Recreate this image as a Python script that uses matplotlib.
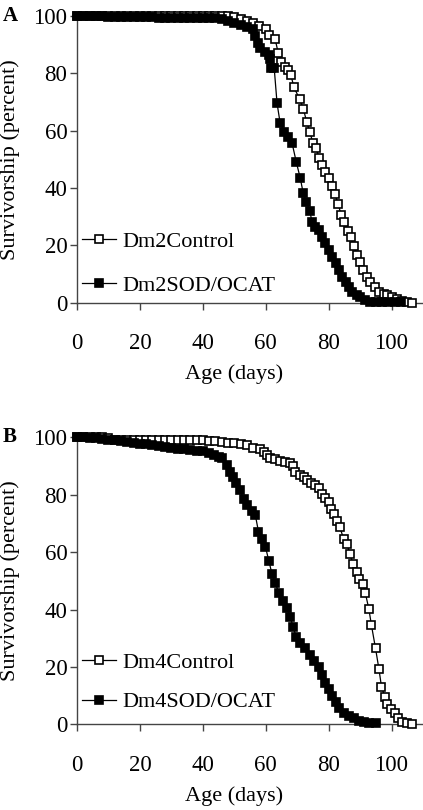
import matplotlib
matplotlib.use("Agg")
import matplotlib.pyplot as plt

plt.rcParams["font.family"] = ["Liberation Serif", "DejaVu Serif"]

# Panel A: Dm2 lines (day, percent surviving)
a_ctrl_days = [0, 2, 4, 6, 8, 10, 12, 14, 16, 18, 20, 22, 24, 26, 28, 30, 32, 34, 36, 38, 40, 42, 44, 46, 48,
               50, 52, 54, 56, 58, 60, 61, 63, 64, 65, 66, 67, 68, 69, 70.8, 72, 73, 74, 75, 76, 77, 78, 79, 80,
               81, 82, 83, 84, 85, 86, 87, 88, 89, 90, 91, 92.3, 93.3, 94.6, 96, 97.6, 98.6, 100.2, 101.8, 103.4,
               105, 106.6]
a_ctrl_pct = [100, 100, 100, 100, 100, 100, 100, 100, 100, 100, 100, 100, 100, 100, 100, 100, 100, 100, 100, 100,
              100, 100, 100, 100, 99.8, 99.5, 98.8, 98.3, 97.6, 96.4, 95.3, 93.3, 91.8, 86.9, 84, 82.2, 81.1, 79.3,
              75, 70.9, 67.4, 63.1, 59.6, 55.7, 53.8, 50.5, 48, 45.6, 43.3, 40.8, 37.9, 34.4, 30.6, 28.2, 25, 22.8,
              19.8, 16.6, 14.3, 11.4, 9.1, 7.3, 5.6, 3.8, 3.0, 2.7, 1.9, 1.2, 0.6, 0.2, 0]

a_sod_days = [0, 2, 4, 6, 8, 10, 12, 14, 16, 18, 20, 22, 24, 26, 28, 30, 32, 34, 36, 38, 40, 42, 44, 46, 48, 50,
              52, 54, 56, 56.7, 57.4, 58.3, 59.7, 61, 61.5, 61.8, 62.7, 63.6, 64.6, 65.9, 67, 68.4, 69.7, 71,
              71.9, 72.9, 74, 74.7, 75.8, 76.8, 77.9, 79, 80, 81.1, 82.2, 83.2, 84.3, 85.4, 86.4, 87.5, 88.9,
              90.1, 91.7, 93.3, 95, 97, 99, 101, 103]
a_sod_pct = [100, 100, 100, 100, 100, 99.6, 99.6, 99.6, 99.6, 99.6, 99.6, 99.6, 99.6, 99.3, 99.3, 99.3, 99.3,
             99.3, 99.3, 99.3, 99.3, 99.3, 99.1, 98.8, 98.2, 97.3, 96.8, 96.2, 95.5, 92.9, 90.4, 88.6, 87.5, 86.3,
             84.8, 81.7, 81.7, 69.5, 62.5, 59.6, 57.8, 55.5, 49.1, 43.3, 38.3, 35.2, 32.1, 28.2, 26.5, 25.3, 23,
             20.7, 18.4, 16, 13.7, 11.4, 9.1, 7.3, 5.6, 3.8, 2.7, 1.9, 0.9, 0.3, 0.3, 0.2, 0.2, 0.1, 0.1]

# Panel B: Dm4 lines
b_ctrl_days = [0, 2, 4, 6, 8, 10, 12, 14, 16, 18, 20, 22, 24, 26, 28, 30, 32, 34, 36, 38, 40, 42, 44, 46, 48, 50,
               52, 54, 56.1, 58.1, 59.3, 60.4, 61.4, 63.1, 64.6, 66.2, 67.6, 68.7, 69.4, 70.8, 72.1, 73.2, 74.5,
               75.8, 76.9, 77.9, 79, 80, 80.9, 81.6, 82.7, 83.5, 84.8, 85.9, 86.7, 87.8, 88.9, 89.6, 91, 91.7,
               92.8, 93.6, 94.9, 96, 96.8, 97.9, 98.6, 99.7, 101.1, 102.2, 103.4, 105, 106.6]
b_ctrl_pct = [100, 100, 100, 100, 100, 99.8, 99.2, 99.1, 99.1, 99.1, 99.1, 99.1, 99.1, 99.1, 99.1, 99.1, 99.1,
              99.1, 99.1, 99.1, 99.0, 98.8, 98.6, 98.2, 97.9, 97.9, 97.6, 97.3, 96.4, 95.8, 95, 93.8, 92.9, 92.3,
              91.8, 91.5, 90.9, 90, 88, 86.9, 86.1, 85.1, 84.2, 83.4, 82.2, 80.2, 78.7, 77.6, 74.9, 73.3, 70.9,
              68.9, 64.5, 62.8, 59.3, 55.9, 53.2, 50.5, 48.9, 45.6, 40.1, 34.6, 26.5, 19.2, 13.1, 9.6, 7, 5.2, 4,
              2.1, 0.9, 0.3, 0.1]

b_sod_days = [0, 2, 4, 6, 8, 10, 12, 14, 16, 18, 20, 22, 24, 26, 28, 30, 32, 34, 36, 38, 40, 42, 43.4, 45, 46.1,
              47.7, 48.5, 49.6, 50.6, 51.9, 53, 54, 55.6, 56.7, 57.7, 58.8, 59.9, 61, 62, 63.1, 64.1, 65.5, 66.8,
              67.8, 68.7, 69.7, 71, 72.6, 74, 75.2, 76.9, 77.9, 79, 80, 81.1, 82.2, 83.2, 84.8, 86.4, 88, 89.6,
              91.2, 92.8, 94.9]
b_sod_pct = [100, 100, 99.8, 99.6, 99.4, 99.2, 98.9, 98.6, 98.3, 98.1, 97.8, 97.5, 97.2, 96.9, 96.6, 96.3, 96.1,
             95.8, 95.6, 95.3, 95.1, 94.6, 93.8, 93.2, 92.7, 90.3, 88, 86.1, 84.2, 81.6, 78.4, 76.4, 74.4, 72.9,
             67.1, 64.5, 61.9, 56.9, 52.4, 49.1, 45.9, 43.1, 40.4, 37.5, 33.8, 30.5, 28.2, 26.5, 24.1, 22.2, 20.1,
             17.2, 14.3, 12.2, 9.9, 7.9, 5.6, 3.8, 2.9, 2.1, 1.1, 0.9, 0.6, 0.3]

panels = [
    ("A", "Dm2Control", "Dm2SOD/OCAT", a_ctrl_days, a_ctrl_pct, a_sod_days, a_sod_pct),
    ("B", "Dm4Control", "Dm4SOD/OCAT", b_ctrl_days, b_ctrl_pct, b_sod_days, b_sod_pct),
]
x_ticks = [0, 20, 40, 60, 80, 100]
y_ticks = [0, 20, 40, 60, 80, 100]

fig = plt.figure(figsize=(4.23, 8.10), dpi=100)
bottoms = [0.6263, 0.1058]
leg_y = [0.136, 0.146]
leg_space = [1.05, 0.85]

for (letter, lab_c, lab_s, cd, cp, sd, sp), b, ly, lsp in zip(panels, bottoms, leg_y, leg_space):
    ax = fig.add_axes([0.182, b, 0.818, 0.3543])
    ax.plot(cd, cp, color="black", lw=0.9, marker="s", ms=6, mfc="white", mec="black", mew=1.2,
            clip_on=False, label=lab_c, zorder=3)
    ax.plot(sd, sp, color="black", lw=0.9, marker="s", ms=6, mfc="black", mec="black", mew=1.2,
            clip_on=False, label=lab_s, zorder=3)
    ax.set_xlim(0, 110)
    ax.set_ylim(0, 100)
    ax.set_xticks(x_ticks)
    ax.set_yticks(y_ticks)
    for s in ["top", "right"]:
        ax.spines[s].set_visible(False)
    for s in ["left", "bottom"]:
        ax.spines[s].set_color("#444444")
        ax.spines[s].set_linewidth(1.0)
    ax.tick_params(axis="x", direction="out", length=5, width=1, color="#444444", pad=17, labelsize=16.5)
    ax.tick_params(axis="y", direction="out", length=5, width=1, color="#444444", pad=2, labelsize=16.5)
    ax.set_xlabel("Age (days)", fontsize=16)
    ax.set_ylabel("Survivorship (percent)", fontsize=16)
    ax.xaxis.set_label_coords(50 / 110, -0.215)
    ax.yaxis.set_label_coords(-0.165, 0.5)
    ax.legend(loc="center left", bbox_to_anchor=(0.015, ly), frameon=False, fontsize=16,
              handlelength=1.5, handletextpad=0.3, labelspacing=lsp, borderpad=0, borderaxespad=0)
    ax.text(-0.215, 1.035, letter, transform=ax.transAxes, fontsize=15, fontweight="bold",
            ha="left", va="top")

fig.savefig("out.png", dpi=100)
